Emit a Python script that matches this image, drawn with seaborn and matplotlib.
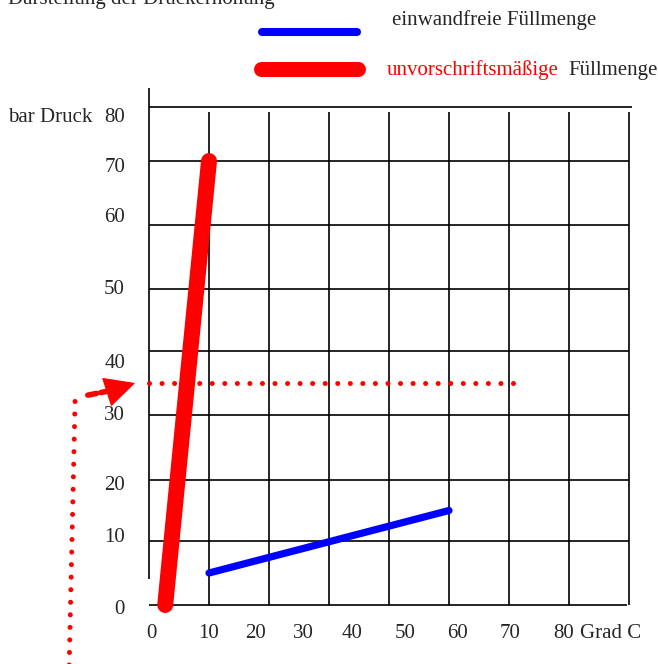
import numpy as np
import matplotlib
matplotlib.use("Agg")
import matplotlib.pyplot as plt
from matplotlib.lines import Line2D
import seaborn as sns

# ---------------------- DATA ----------------------
title = "Darstellung der Druckerhöhung"
y_axis_name = "bar Druck"
x_unit = "Grad C"
tick_values = [0, 10, 20, 30, 40, 50, 60, 70, 80]

ok_temp = [10, 50]
ok_pressure = [5, 15]
bad_temp = [2.7, 10]
bad_pressure = [0, 70]

# rote Markierung (Grenzdruck)
limit_temp = [0, 62]
limit_pressure = [35, 35]
pointer_x = [-13.3, -12.3]
pointer_y = [-9.4, 33.1]
arrow_shaft_x = [-10.2, -7.0]
arrow_shaft_y = [33.1, 33.7]
arrow_tip = (-2.3, 35)

legend_ok = "einwandfreie Füllmenge"
legend_bad_red = "unvorschriftsmäßige"
legend_bad_black = "Füllmenge"

# ---------------------- STYLE ----------------------
sns.set_style("white")
plt.rcParams["font.family"] = ["Liberation Serif", "DejaVu Serif"]
FS = 15

W, H = 658, 664
fig = plt.figure(figsize=(W / 100, H / 100), dpi=100)
# axis box: x 0..80 -> px 149..629, y 0..80 -> px 605..107
ax = fig.add_axes([149 / W, (H - 605) / H, 480 / W, 498 / H])

# the hand-drawn raster is not evenly spaced: map values onto its lines
grid_height = np.array([0, 64, 125, 190, 254, 316, 380, 444, 498], float)
grid_vals = np.array(tick_values, float)


def _extrap(x, xp, fp):
    x = np.asarray(x, float)
    out = np.interp(x, xp, fp)
    lo = x < xp[0]
    hi = x > xp[-1]
    out[lo] = fp[0] + (x[lo] - xp[0]) * (fp[1] - fp[0]) / (xp[1] - xp[0])
    out[hi] = fp[-1] + (x[hi] - xp[-1]) * (fp[-1] - fp[-2]) / (xp[-1] - xp[-2])
    return out


ax.set_yscale("function",
              functions=(lambda v: _extrap(v, grid_vals, grid_height),
                         lambda h: _extrap(h, grid_height, grid_vals)))
ax.set_xlim(0, 80)
ax.set_ylim(0, 80)
ax.axis("off")


def fx(px):
    return px / W


def fy(py):
    return 1 - py / H


# ---------------------- GRID ----------------------
grid_kw = dict(color="black", lw=1.2, clip_on=False)
ax.vlines(tick_values[1:], 0, 79.1, **grid_kw)
ax.vlines(0, 4.1, 83.5, **grid_kw)
ax.hlines(tick_values[1:-1], 0, 80, **grid_kw)
ax.hlines(80, 0, 80.5, **grid_kw)
ax.hlines(0, 0, 79.7, **grid_kw)

# ---------------------- LINES ----------------------
sns.lineplot(x=ok_temp, y=ok_pressure, color="#0000ff", linewidth=5.2,
             solid_capstyle="round", ax=ax, clip_on=False)
sns.lineplot(x=bad_temp, y=bad_pressure, color="#ff0000", linewidth=11.5,
             solid_capstyle="round", ax=ax, clip_on=False)

dot = (0, (0.01, 2.5))
ax.plot(limit_temp, limit_pressure, color="#ff0000", lw=3.6, linestyle=dot,
        dash_capstyle="round", clip_on=False)
ax.plot(pointer_x, pointer_y, color="#ff0000", lw=3.6, linestyle=dot,
        dash_capstyle="round", clip_on=False)
ax.plot(arrow_shaft_x, arrow_shaft_y, color="#ff0000", lw=4,
        linestyle=(0, (1.6, 0.8)), dash_capstyle="round", clip_on=False)
ax.annotate("", xy=arrow_tip, xytext=(-6.75, 33.67),
            arrowprops=dict(arrowstyle="-|>,head_length=2.0,head_width=1.0",
                            color="#ff0000", lw=1, mutation_scale=10,
                            shrinkA=0, shrinkB=0),
            annotation_clip=False)

# ---------------------- TICK LABELS ----------------------
x_label_px = [151, 209, 256, 303, 352, 405, 458, 510, 564]
y_label_px = [610, 537, 486, 415, 363, 290, 217, 168, 118]
for v, px in zip(tick_values, x_label_px):
    fig.text(fx(px), fy(633), str(v), ha="center", va="center", fontsize=FS)
fig.text(fx(580), fy(633), x_unit, ha="left", va="center", fontsize=FS)
for v, py in zip(tick_values, y_label_px):
    fig.text(fx(125), fy(py), str(v), ha="right", va="center", fontsize=FS)
fig.text(fx(8), fy(118), y_axis_name, ha="left", va="center", fontsize=FS)

# ---------------------- TITLE & LEGEND ----------------------
fig.text(fx(8), fy(4), title, ha="left", va="baseline", fontsize=FS)

fig.add_artist(Line2D([fx(262), fx(357)], [fy(32), fy(32)], color="#0000ff",
                      lw=5.8, solid_capstyle="round"))
fig.add_artist(Line2D([fx(261), fx(358)], [fy(69), fy(69)], color="#ff0000",
                      lw=10.8, solid_capstyle="round"))
fig.text(fx(392), fy(20), legend_ok, ha="left", va="center", fontsize=FS)
fig.text(fx(387), fy(70), legend_bad_red, ha="left", va="center",
         fontsize=FS, color="#ff0000")
fig.text(fx(568), fy(70), legend_bad_black, ha="left", va="center",
         fontsize=FS)

fig.savefig("out.png", dpi=100)
